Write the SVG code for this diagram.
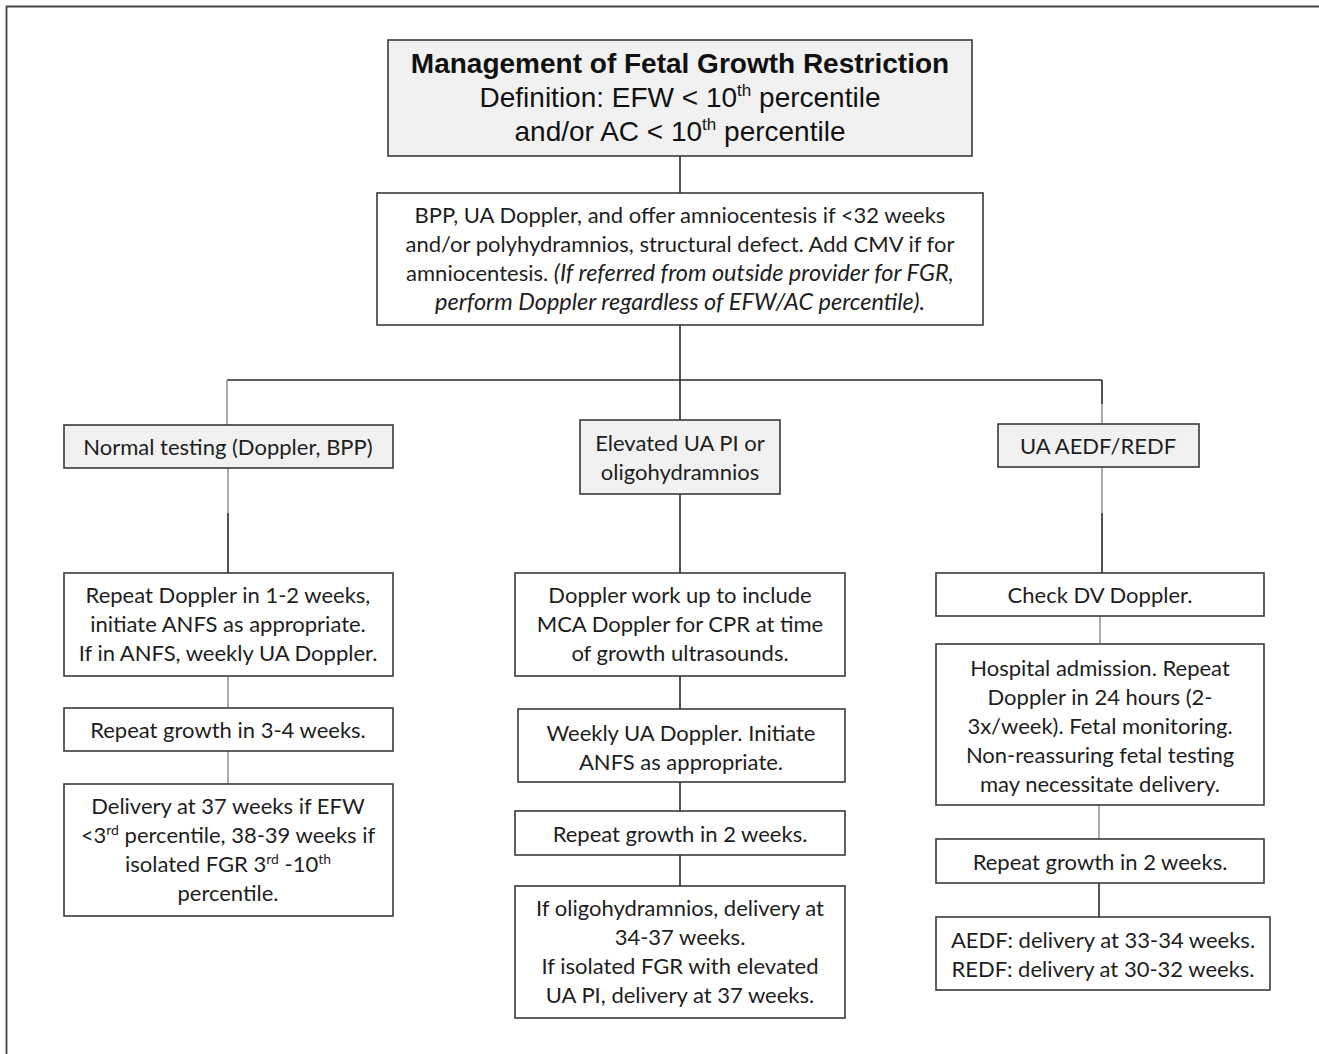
<svg xmlns="http://www.w3.org/2000/svg" width="1319" height="1054" viewBox="0 0 1319 1054">
<style>
.box{fill:#ffffff;stroke:#3a3a3a;stroke-width:1.6}
.gbox{fill:#f1f1f1;stroke:#3a3a3a;stroke-width:1.6}
.t{font-family:Lato,"Open Sans",sans-serif;font-size:22px;fill:#1e1e1e;text-anchor:middle}
.it{font-style:italic;font-size:23.5px}
.h{font-family:"Liberation Sans",Arial,sans-serif;font-size:28px;fill:#111;text-anchor:middle}
.dk{stroke:#2a2a2a;stroke-width:1.6;fill:none}
.gr{stroke:#9a9a9a;stroke-width:1.6;fill:none}
</style>
<rect width="1319" height="1054" fill="#ffffff"/>
<path d="M6.5,1054 V6.5 H1319" fill="none" stroke="#444" stroke-width="1.8"/>
<g id="connectors">
<path class="dk" d="M680,156 V193 M680,325 V420 M227,380 H1102 M1102,380 V404"/>
<path class="gr" d="M227,380 V425 M1102,404 V424"/>
<path class="gr" d="M228,468 V513 M1102,467 V513"/>
<path class="dk" d="M228,513 V573 M1102,513 V573"/>
<path class="gr" d="M228,676 V708 M228,751 V784"/>
<path class="dk" d="M680,494 V573 M680,676 V709 M680,782 V811 M680,855 V886"/>
<path class="gr" d="M1100,616 V644 M1099,805 V839"/>
<path class="dk" d="M1099,883 V917"/>
</g>
<g id="title">
<rect class="gbox" x="388" y="40" width="584" height="116"/>
<text class="h" x="680" y="73" font-weight="bold">Management of Fetal Growth Restriction</text>
<text class="h" x="680" y="107">Definition: EFW &lt; 10<tspan font-size="17" dy="-11">th</tspan><tspan dy="11"> percentile</tspan></text>
<text class="h" x="680" y="141">and/or AC &lt; 10<tspan font-size="17" dy="-11">th</tspan><tspan dy="11"> percentile</tspan></text>
</g>
<g id="initial">
<rect class="box" x="377" y="193" width="606" height="132"/>
<text class="t" x="680" y="223">BPP, UA Doppler, and offer amniocentesis if &lt;32 weeks</text>
<text class="t" x="680" y="252">and/or polyhydramnios, structural defect. Add CMV if for</text>
<text class="t" x="680" y="281">amniocentesis. <tspan class="it">(If referred from outside provider for FGR,</tspan></text>
<text class="t it" x="680" y="310">perform Doppler regardless of EFW/AC percentile).</text>
</g>
<g id="normal">
<rect class="gbox" x="64" y="425" width="329" height="43"/>
<text class="t" x="228" y="455">Normal testing (Doppler, BPP)</text>
</g>
<g id="elevated">
<rect class="gbox" x="580" y="420" width="200" height="74"/>
<text class="t" x="680" y="451">Elevated UA PI or</text>
<text class="t" x="680" y="480">oligohydramnios</text>
</g>
<g id="aedf">
<rect class="gbox" x="998" y="424" width="201" height="43"/>
<text class="t" x="1098" y="454">UA AEDF/REDF</text>
</g>
<g id="repeat-doppler">
<rect class="box" x="64" y="573" width="329" height="103"/>
<text class="t" x="228" y="603">Repeat Doppler in 1-2 weeks,</text>
<text class="t" x="228" y="632">initiate ANFS as appropriate.</text>
<text class="t" x="228" y="661">If in ANFS, weekly UA Doppler.</text>
</g>
<g id="repeat-growth-34">
<rect class="box" x="64" y="708" width="329" height="43"/>
<text class="t" x="228" y="738">Repeat growth in 3-4 weeks.</text>
</g>
<g id="delivery-37">
<rect class="box" x="64" y="784" width="329" height="132"/>
<text class="t" x="228" y="814">Delivery at 37 weeks if  EFW</text>
<text class="t" x="228" y="843">&lt;3<tspan font-size="14" dy="-8">rd</tspan><tspan dy="8"> percentile, 38-39 weeks if</tspan></text>
<text class="t" x="228" y="872">isolated FGR 3<tspan font-size="14" dy="-8">rd</tspan><tspan dy="8"> -10</tspan><tspan font-size="14" dy="-8">th</tspan></text>
<text class="t" x="228" y="901">percentile.</text>
</g>
<g id="doppler-workup">
<rect class="box" x="515" y="573" width="330" height="103"/>
<text class="t" x="680" y="603">Doppler work up to include</text>
<text class="t" x="680" y="632">MCA Doppler for CPR at time</text>
<text class="t" x="680" y="661">of growth ultrasounds.</text>
</g>
<g id="weekly-ua">
<rect class="box" x="518" y="709" width="327" height="73"/>
<text class="t" x="681" y="741">Weekly UA Doppler. Initiate</text>
<text class="t" x="681" y="770">ANFS as appropriate.</text>
</g>
<g id="repeat-growth-2-mid">
<rect class="box" x="515" y="811" width="330" height="44"/>
<text class="t" x="680" y="842">Repeat growth in 2 weeks.</text>
</g>
<g id="oligo-delivery">
<rect class="box" x="515" y="886" width="330" height="132"/>
<text class="t" x="680" y="916">If oligohydramnios, delivery at</text>
<text class="t" x="680" y="945">34-37 weeks.</text>
<text class="t" x="680" y="974">If isolated FGR with elevated</text>
<text class="t" x="680" y="1003">UA PI, delivery at 37 weeks.</text>
</g>
<g id="check-dv">
<rect class="box" x="936" y="573" width="328" height="43"/>
<text class="t" x="1100" y="603">Check DV Doppler.</text>
</g>
<g id="hospital">
<rect class="box" x="936" y="644" width="328" height="161"/>
<text class="t" x="1100" y="676">Hospital admission. Repeat</text>
<text class="t" x="1100" y="705">Doppler in 24 hours (2-</text>
<text class="t" x="1100" y="734">3x/week). Fetal monitoring.</text>
<text class="t" x="1100" y="763">Non-reassuring fetal testing</text>
<text class="t" x="1100" y="792">may necessitate delivery.</text>
</g>
<g id="repeat-growth-2-right">
<rect class="box" x="936" y="839" width="328" height="44"/>
<text class="t" x="1100" y="870">Repeat growth in 2 weeks.</text>
</g>
<g id="aedf-delivery">
<rect class="box" x="936" y="917" width="334" height="73"/>
<text class="t" x="1103" y="948">AEDF: delivery at 33-34 weeks.</text>
<text class="t" x="1103" y="977">REDF: delivery at 30-32 weeks.</text>
</g>
</svg>
